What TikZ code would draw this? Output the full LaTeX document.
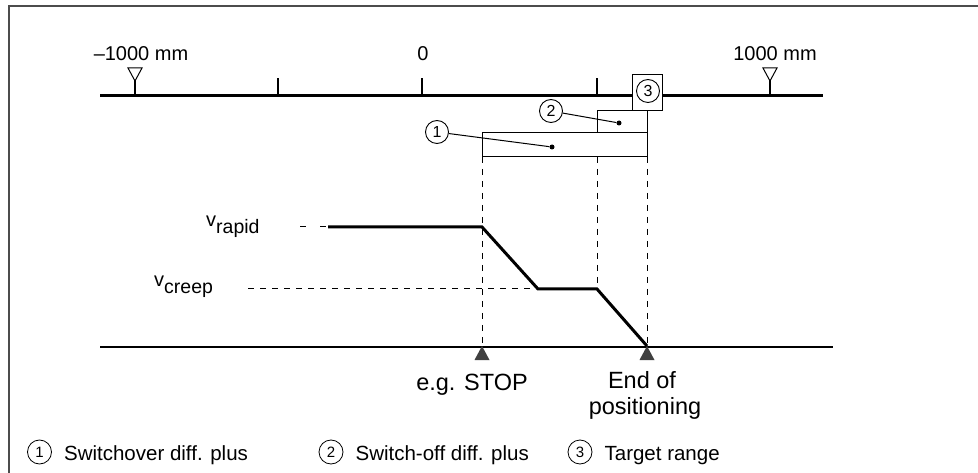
\documentclass[tikz,border=0pt]{standalone}
\usepackage{fontspec}
\setmainfont{Liberation Sans}
\usetikzlibrary{positioning}

\newcommand{\fsz}[1]{\fontsize{#1}{#1}\selectfont}

\begin{document}
\begin{tikzpicture}[x=1pt,y=-1pt,
    thinline/.style={line width=1pt},
    axisline/.style={line width=3pt},
    tickline/.style={line width=2.5pt},
    profile/.style={line width=3pt,line join=miter},
    guide/.style={line width=1pt,dash pattern=on 6pt off 6pt},
    num/.style={circle,draw,line width=0.9pt,minimum size=23pt,inner sep=0pt,font=\fsz{16}},
    lnum/.style={circle,draw,line width=0.8pt,minimum size=24pt,inner sep=0pt,font=\fsz{15}},
    dot/.style={circle,fill,minimum size=5pt,inner sep=0pt},
    scalelbl/.style={inner sep=0pt,font=\fsz{20}},
    txt/.style={inner sep=0pt,font=\fsz{23.5}},
    legtxt/.style={inner sep=0pt,font=\fsz{20.5}}]
  \useasboundingbox (0,0) rectangle (978,473);
  %% frame
  \draw[line width=2pt,black!70] (978,6.5) -- (9,6.5) -- (9,473);

  %% position axis
  \coordinate (a0) at (100,96);
  \coordinate (a1) at (823,96);
  \draw[axisline] (a0) -- (a1);
  \foreach \x in {278,422,597}
    \draw[tickline] (\x,96) -- (\x,78);
  \foreach \x in {135,770} {
    \draw[tickline] (\x,96) -- (\x,80);
    \draw[thinline,line join=miter] (\x-7,68) -- (\x+7,68) -- (\x,81) -- cycle;
  }
  \node[scalelbl] (m1) at (141,54) {–1000 mm};
  \node[scalelbl] (m0) at (423,54) {0};
  \node[scalelbl] (p1) at (775,54) {1000 mm};

  %% ranges
  \draw[thinline] (482,133) rectangle (647,157);
  \draw[thinline] (597,111) rectangle (647,133);
  \draw[thinline,fill=white] (632,75) rectangle (662,111);
  \node[num] (c3) at (648,91) {3};
  \node[dot] (d1) at (552,147) {};
  \node[dot] (d2) at (619,123) {};
  \node[num] (c1) at (437,132) {1};
  \node[num] (c2) at (551,111) {2};
  \draw[thinline] (c1) -- (d1);
  \draw[thinline] (c2) -- (d2);

  %% velocity profile
  \coordinate (r0) at (300,227);
  \coordinate (r1) at (328,227);
  \coordinate (r2) at (482,227);
  \coordinate (k0) at (248,289);
  \coordinate (k1) at (538,289);
  \coordinate (k2) at (597,289);
  \coordinate (e) at (647,346);
  \draw[guide,dash pattern=on 6pt off 14pt] (r0) -- (r1);
  \draw[guide] (k0) -- (k1);
  \draw[profile] (r1) -- (r2) -- (k1) -- (k2) -- (e);
  \node[scalelbl,anchor=base west] (vr) at (206,227) {v\fsz{19.5}\raisebox{-7pt}{rapid}};
  \node[scalelbl,anchor=base west] (vc) at (154,287) {v\fsz{19.5}\raisebox{-7pt}{creep}};

  %% vertical guides
  \coordinate (t1) at (482,157);
  \coordinate (t2) at (597,157);
  \coordinate (t3) at (647,157);
  \coordinate (s1) at (482,347);
  \draw[guide] (t1) -- (s1);
  \draw[guide] (t2) -- (k2);
  \draw[guide] (t3) -- (e);

  %% time line
  \coordinate (b0) at (100,347);
  \coordinate (b1) at (833,347);
  \draw[line width=1.5pt] (b0) -- (b1);
  \foreach \x in {482,647}
    \fill[black!75] (\x-7.5,360) -- (\x+7.5,360) -- (\x,346) -- cycle;
  \node[txt,anchor=base] (stop) at (472,390) {e.g. STOP};
  \node[txt,anchor=base] (end1) at (642,388) {End of};
  \node[txt,anchor=base] (end2) at (645,414) {positioning};

  %% legend
  \node[lnum] (l1) at (39.5,452) {1};
  \node[lnum] (l2) at (331,452) {2};
  \node[lnum] (l3) at (580,452) {3};
  \node[legtxt,anchor=base west] (g1) at ([xshift=12pt,yshift=-8.5pt]l1.east) {Switchover diff. plus};
  \node[legtxt,anchor=base west] (g2) at ([xshift=12pt,yshift=-8.5pt]l2.east) {Switch-off diff. plus};
  \node[legtxt,anchor=base west] (g3) at ([xshift=12pt,yshift=-8.5pt]l3.east) {Target range};
\end{tikzpicture}
\end{document}
